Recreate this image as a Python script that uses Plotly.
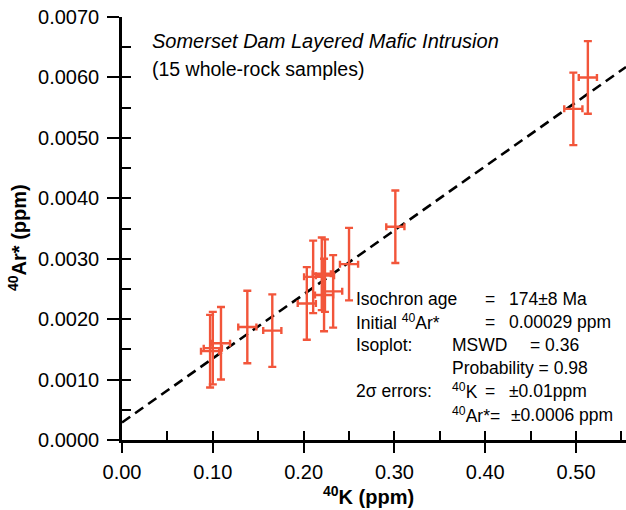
import plotly.graph_objects as go

# ---------------- data ----------------
k40_ppm = [0.097, 0.100, 0.109, 0.138, 0.1655, 0.2035, 0.2105, 0.2200, 0.2235,
           0.2225, 0.2325, 0.2500, 0.3010, 0.4970, 0.5130]
ar40_ppm = [0.00147, 0.00152, 0.00160, 0.00187, 0.00181, 0.00226, 0.00270, 0.00275,
            0.00272, 0.00240, 0.00246, 0.00291, 0.00353, 0.00548, 0.00600]
k40_err = 0.01      # 2 sigma
ar40_err = 0.0006   # 2 sigma

iso_intercept = 0.00029
iso_slope = 0.0106

x_range = [0.0, 0.555]
y_range = [0.0, 0.0070]
x_ticks = [0.0, 0.1, 0.2, 0.3, 0.4, 0.5]
x_tick_labels = ["0.00", "0.10", "0.20", "0.30", "0.40", "0.50"]
y_ticks = [0.0, 0.001, 0.002, 0.003, 0.004, 0.005, 0.006, 0.007]
y_tick_labels = ["0.0000", "0.0010", "0.0020", "0.0030", "0.0040", "0.0050", "0.0060", "0.0070"]

# ---------------- layout helpers ----------------
W, H = 626, 510
ML, MR, MT, MB = 122, 0, 17, 70
PW, PH = W - ML - MR, H - MT - MB


def px(xp):
    return (xp - ML) / PW


def py(yp):
    return (H - MB - yp) / PH


FONT = "Arial, Liberation Sans, Helvetica, sans-serif"
ORANGE = "#F2553A"

fig = go.Figure()

# isochron fit line
line_x = x_range
line_y = [iso_intercept + iso_slope * v for v in line_x]
fig.add_trace(go.Scatter(
    x=line_x, y=line_y, mode="lines",
    line=dict(color="black", width=2.6, dash="10px,6px"),
    hoverinfo="skip", showlegend=False))

# data with error bars
fig.add_trace(go.Scatter(
    x=k40_ppm, y=ar40_ppm, mode="markers",
    marker=dict(size=1, color="rgba(0,0,0,0)"),
    error_x=dict(type="constant", value=k40_err, color=ORANGE, thickness=2.4, width=3.5),
    error_y=dict(type="constant", value=ar40_err, color=ORANGE, thickness=2.4, width=4),
    showlegend=False))

# dummy trace for overlay axes (inside ticks)
fig.add_trace(go.Scatter(x=[None], y=[None], xaxis="x2", yaxis="y2",
                         showlegend=False, hoverinfo="skip"))

fig.update_layout(
    width=W, height=H,
    margin=dict(l=ML, r=MR, t=MT, b=MB, autoexpand=False),
    paper_bgcolor="white", plot_bgcolor="white",
    font=dict(family=FONT, color="black"),
    xaxis=dict(
        range=x_range, tickvals=x_ticks, ticktext=x_tick_labels,
        ticks="outside", ticklen=10, tickwidth=2.2, tickcolor="black",
        showline=True, linecolor="black", linewidth=2.6,
        showgrid=False, zeroline=False, automargin=False,
        tickfont=dict(size=20, family=FONT), ticklabelstandoff=2,
    ),
    yaxis=dict(
        range=y_range, tickvals=y_ticks, ticktext=y_tick_labels,
        ticks="outside", ticklen=12, tickwidth=2.2, tickcolor="black",
        showline=True, linecolor="black", linewidth=2.6,
        showgrid=False, zeroline=False, automargin=False,
        tickfont=dict(size=20, family=FONT), ticklabelstandoff=4,
    ),
    xaxis2=dict(
        overlaying="x", side="bottom", anchor="y", matches="x", range=x_range,
        tick0=0, dtick=0.05, ticks="inside", ticklen=9, tickwidth=2.2, tickcolor="black",
        showticklabels=False, showline=False, showgrid=False, zeroline=False, automargin=False,
    ),
    yaxis2=dict(
        overlaying="y", side="left", anchor="x", matches="y", range=y_range,
        tick0=0, dtick=0.0005, ticks="inside", ticklen=9, tickwidth=2.2, tickcolor="black",
        showticklabels=False, showline=False, showgrid=False, zeroline=False, automargin=False,
    ),
)

ann = []


def add(text, xp, yp, size=17.5, italic=False, anchor="left", angle=0):
    t = f"<i>{text}</i>" if italic else text
    ann.append(dict(text=t, x=px(xp), y=py(yp), xref="paper", yref="paper",
                    xanchor=anchor, yanchor="middle", showarrow=False, textangle=angle,
                    font=dict(size=size, family=FONT, color="black")))


# axis titles
add("<b><sup>40</sup>K (ppm)</b>", 368, 495, size=20, anchor="center")
add("<b><sup>40</sup>Ar* (ppm)</b>", 17, 238, size=20, anchor="center", angle=-90)

add("Somerset Dam Layered Mafic Intrusion", 150, 41, size=20, italic=True)
add("(15 whole-rock samples)", 150, 69, size=19.5)

add("Isochron age", 354, 299)
add("=", 483, 299)
add("174±8 Ma", 507, 299)
add("Initial <sup>40</sup>Ar*", 354, 322)
add("=", 483, 322)
add("0.00029 ppm", 507, 322)
add("Isoplot:", 354, 345)
add("MSWD", 450, 345)
add("= 0.36", 528, 345)
add("Probability = 0.98", 450, 368)
add("2σ errors:", 354, 391)
add("<sup>40</sup>K", 450, 391)
add("=", 483, 391)
add("±0.01ppm", 507, 391)
add("<sup>40</sup>Ar*=", 450, 415)
add("±0.0006 ppm", 509, 415)

fig.update_layout(annotations=ann)

fig.write_html("out.html", config={"displayModeBar": False},
               post_script="document.body.style.margin='0';document.body.style.overflow='hidden';")
